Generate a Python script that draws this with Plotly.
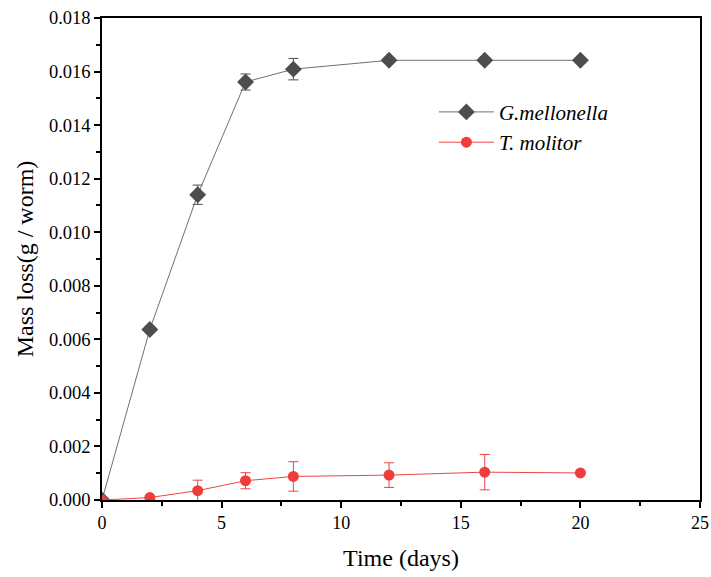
import plotly.graph_objects as go

days_g = [0, 2, 4, 6, 8, 12, 16, 20]
mass_g = [0.0, 0.00637, 0.01140, 0.01561, 0.01609, 0.01642, 0.01642, 0.01642]
err_g = [0.0, 0.00012, 0.00036, 0.00030, 0.00040, 0.0, 0.0, 0.0]

days_t = [0, 2, 4, 6, 8, 12, 16, 20]
mass_t = [0.0, 0.00009, 0.00035, 0.00072, 0.00088, 0.00093, 0.00104, 0.00101]
err_t = [0.0, 0.0, 0.00039, 0.00030, 0.00055, 0.00046, 0.00066, 0.0]

x_ticks = [0, 5, 10, 15, 20, 25]
y_ticks = [0.000, 0.002, 0.004, 0.006, 0.008, 0.010, 0.012, 0.014, 0.016, 0.018]

font_family = "Liberation Serif, Times New Roman, serif"

fig = go.Figure()
fig.add_trace(go.Scatter(
    x=days_g, y=mass_g, name="G.mellonella", mode="lines+markers",
    line=dict(color="#707070", width=1),
    marker=dict(symbol="diamond", size=13, color="#4d4d4d"),
    error_y=dict(type="data", array=err_g, color="#4d4d4d", thickness=1, width=5),
))
fig.add_trace(go.Scatter(
    x=days_t, y=mass_t, name="T. molitor", mode="lines+markers",
    line=dict(color="#ee4444", width=1),
    marker=dict(symbol="circle", size=11, color="#ee3d3d"),
    error_y=dict(type="data", array=err_t, color="#ee4444", thickness=1, width=5),
))

axis_common = dict(
    showline=True, linecolor="black", linewidth=1.5, mirror=True,
    ticks="outside", ticklen=6, tickwidth=1.5, tickcolor="black",
    showgrid=False, zeroline=False, automargin=False,
)

fig.update_xaxes(
    range=[0, 25], tickvals=x_ticks, ticktext=[str(v) for v in x_ticks],
    tickfont=dict(family=font_family, size=18, color="black"),
    ticklabeloverflow="allow",
    title=dict(text="Time (days)", font=dict(family=font_family, size=24, color="black"), standoff=17),
    minor=dict(ticks="outside", ticklen=4, tickwidth=1.5, tickcolor="black", dtick=2.5),
    **axis_common,
)
fig.update_yaxes(
    range=[0, 0.018], tickvals=y_ticks, ticktext=[f"{v:.3f}" for v in y_ticks],
    tickfont=dict(family=font_family, size=18.5, color="black"),
    title=dict(text="Mass loss(g / worm)", font=dict(family=font_family, size=24, color="black"), standoff=9),
    minor=dict(ticks="outside", ticklen=4, tickwidth=1.5, tickcolor="black", dtick=0.001),
    **axis_common,
)

fig.update_layout(
    width=711, height=577,
    margin=dict(l=102, r=11, t=18, b=77, autoexpand=False),
    font=dict(family=font_family, color="black"),
    plot_bgcolor="white", paper_bgcolor="white",
    legend=dict(
        x=0.555, y=0.847, xanchor="left", yanchor="top",
        font=dict(family=font_family, size=21, color="black", style="italic"),
        bgcolor="rgba(0,0,0,0)", tracegroupgap=0, itemwidth=55,
    ),
)

fig.write_html(
    "out.html",
    config={"displayModeBar": False},
    post_script="document.body.style.margin='0';document.body.style.overflow='hidden';",
)
